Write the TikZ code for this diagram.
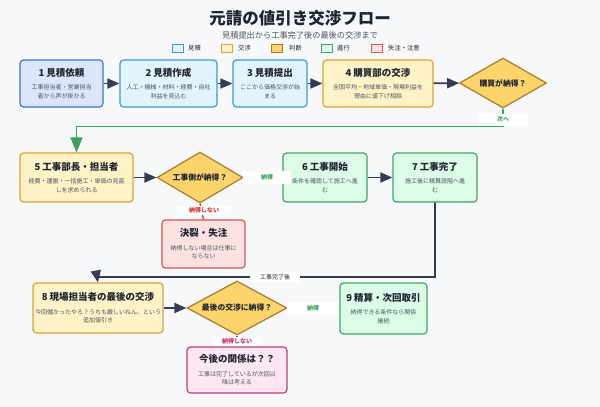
\documentclass[tikz,border=0pt]{standalone}
\usepackage{fontspec}
\setmainfont{Noto Sans CJK JP}
\usetikzlibrary{arrows.meta,shapes.geometric}
\definecolor{bg}{HTML}{F7F8FA}
\definecolor{ink}{HTML}{1F2430}
\definecolor{desc}{HTML}{4B5563}
\definecolor{arr}{HTML}{343C52}
\definecolor{gline}{HTML}{3AA35D}
\definecolor{bfillA}{HTML}{DCE6FB}\definecolor{bdrawA}{HTML}{3F72D6}
\definecolor{bfill}{HTML}{E1F3FD}\definecolor{bdraw}{HTML}{3C9AD6}
\definecolor{yfill}{HTML}{FEF3C7}\definecolor{ydraw}{HTML}{E0A030}
\definecolor{dfill}{HTML}{FCD46C}\definecolor{ddraw}{HTML}{A87B2B}
\definecolor{gfill}{HTML}{DCFCE7}\definecolor{gdraw}{HTML}{3FA566}
\definecolor{rfill}{HTML}{FEE2E2}\definecolor{rdraw}{HTML}{D9534F}
\definecolor{pfill}{HTML}{FCE7F3}\definecolor{pdraw}{HTML}{BE3D78}
\definecolor{rtext}{HTML}{D03A3A}
\definecolor{ptext}{HTML}{C0306A}
\newcommand{\ttf}{\fontsize{9.5}{11}\selectfont\bfseries\color{ink}}
\newcommand{\dsf}{\fontsize{6}{8.5}\selectfont\color{desc}}
\newcommand{\bxt}[3]{{\ttf #1}\\[5pt]{\dsf #2}\\{\dsf #3}}
\tikzset{
  box/.style={draw, rounded corners=3.5pt, line width=1.2pt, inner sep=0pt, align=center, font=\fontsize{6}{8.5}\selectfont},
  bluebox/.style={box, fill=bfill, draw=bdraw},
  yelbox/.style={box, fill=yfill, draw=ydraw},
  grnbox/.style={box, fill=gfill, draw=gdraw},
  redbox/.style={box, fill=rfill, draw=rdraw},
  pnkbox/.style={box, fill=pfill, draw=pdraw},
  dia/.style={diamond, draw=ddraw, fill=dfill, line width=1.2pt, inner sep=0pt},
  dtext/.style={font=\fontsize{7.8}{9}\selectfont\bfseries, text=ink},
  darr/.style={draw=arr, line width=1.8pt, -{Triangle[length=12pt,width=10pt]}},
  lbl/.style={fill=white, inner sep=0pt, font=\fontsize{6}{7}\selectfont\bfseries},
  leg/.style={draw, line width=0.8pt, minimum width=11pt, minimum height=8pt, inner sep=0pt},
  legt/.style={font=\fontsize{6.3}{7}\selectfont, text=ink, anchor=west, inner sep=0pt},
}
\begin{document}
\begin{tikzpicture}[x=1pt,y=-1pt]
\useasboundingbox[fill=bg] (0,0) rectangle (600,407);
% title
\node[font=\fontsize{16.5}{18}\selectfont\bfseries, text=ink] (title) at (300,18) {元請の値引き交渉フロー};
\node[font=\fontsize{8.2}{9}\selectfont, text=desc] (sub) at (300,35) {見積提出から工事完了後の最後の交渉まで};
% legend
\node[leg, fill=bfill, draw=bdraw] (lg1) at (177.5,48) {};
\node[legt] (lt1) at (188,48) {見積};
\node[leg, fill=yfill, draw=ydraw] (lg2) at (226.5,48) {};
\node[legt] (lt2) at (238,48) {交渉};
\node[leg, fill=dfill, draw=ddraw] (lg3) at (276.5,48) {};
\node[legt] (lt3) at (289,48) {判断};
\node[leg, fill=gfill, draw=gdraw] (lg4) at (326.5,48) {};
\node[legt] (lt4) at (337,48) {進行};
\node[leg, fill=rfill, draw=rdraw] (lg5) at (376.5,48) {};
\node[legt] (lt5) at (388,48) {失注・注意};
% row 1
\node[box, fill=bfillA, draw=bdrawA, minimum width=83pt, minimum height=47pt] (n1) at (61.5,83.5) {\bxt{1 見積依頼}{工事担当者・営業担当}{者から声が掛かる}};
\node[bluebox, minimum width=97pt, minimum height=47pt] (n2) at (168.5,83.5) {\bxt{2 見積作成}{人工・機械・材料・経費・自社}{利益を見込む}};
\node[bluebox, minimum width=74pt, minimum height=47pt] (n3) at (270,83.5) {\bxt{3 見積提出}{ここから価格交渉が始}{まる}};
\node[yelbox, minimum width=110pt, minimum height=47pt] (n4) at (378,83.5) {\bxt{4 購買部の交渉}{全国平均・地域単価・現場利益を}{理由に値下げ相談}};
\node[dia, minimum width=87pt, minimum height=50pt, label={[dtext]center:購買が納得？}] (d1) at (503,83) {};
% row 2
\node[yelbox, minimum width=113pt, minimum height=49pt] (n5) at (76.5,177.5) {\bxt{5 工事部長・担当者}{経費・運搬・一括施工・単価の見直}{しを求められる}};
\node[dia, minimum width=86pt, minimum height=51pt, label={[dtext]center:工事側が納得？}] (d2) at (200,177.5) {};
\node[grnbox, minimum width=84pt, minimum height=49pt] (n6) at (325,177.5) {\bxt{6 工事開始}{条件を確認して施工へ進}{む}};
\node[grnbox, minimum width=84pt, minimum height=49pt] (n7) at (435,177.5) {\bxt{7 工事完了}{施工後に精算段階へ進}{む}};
\node[redbox, minimum width=83pt, minimum height=48pt] (nF) at (203.5,244) {\bxt{決裂・失注}{納得しない場合は仕事に}{ならない}};
% row 3
\node[yelbox, minimum width=130pt, minimum height=50pt] (n8) at (98,308) {\bxt{8 現場担当者の最後の交渉}{今回儲かったやろ？うちも厳しいねん、という}{追加値引き}};
\node[dia, minimum width=100pt, minimum height=54pt, label={[dtext]center:最後の交渉に納得？}] (d3) at (237,308) {};
\node[grnbox, minimum width=87pt, minimum height=51pt] (n9) at (383.5,308.5) {\bxt{9 精算・次回取引}{納得できる条件なら関係}{継続}};
\node[pnkbox, minimum width=100pt, minimum height=46pt] (nR) at (237,370) {\bxt{今後の関係は？？}{工事は完了しているが次回以}{降は考える}};
% connectors
\draw[darr] (n1) -- (n2);
\draw[darr] (n2) -- (n3);
\draw[darr] (n3) -- (n4);
\draw[darr] (n4) -- (d1);
\coordinate (c1) at (503,126.5);
\coordinate (c2) at (76.5,126.5);
\draw[draw=gline, line width=1.6pt, -{Triangle[length=15pt,width=12pt]}] (d1.south) -- (c1) -- (c2) -- (n5.north);
\node[lbl, text=gline, minimum width=50pt, minimum height=12pt] (l1) at (503,119.5) {次へ};
\draw[darr] (n5) -- (d2);
\draw[darr] (d2.east) -- (n6.west);
\node[lbl, text=gline, minimum width=48pt, minimum height=13pt] (l2) at (267,177.5) {納得};
\draw[darr] (n6) -- (n7);
\draw[draw=rtext, line width=1.3pt] (d2.south) -- (nF.north);
\node[lbl, text=rtext, minimum width=52pt, minimum height=9pt] (l3) at (204,210.5) {納得しない};
\coordinate (c3) at (435,277);
\coordinate (c4) at (97,277);
\draw[darr] (n7.south) -- (c3) -- (c4) -- (n8.north);
\node[lbl, text=ink, font=\fontsize{6}{7}\selectfont, minimum width=50pt, minimum height=10pt] (l4) at (275,277) {工事完了後};
\draw[darr] (n8) -- (d3);
\draw[darr] (d3.east) -- (n9.west);
\node[lbl, text=gline, minimum width=52pt, minimum height=13pt] (l5) at (313,308) {納得};
\draw[draw=ptext, line width=1.6pt] (d3.south) -- (nR.north);
\node[lbl, text=ptext, minimum width=50pt, minimum height=9pt] (l6) at (237,341.5) {納得しない};
\end{tikzpicture}
\end{document}
